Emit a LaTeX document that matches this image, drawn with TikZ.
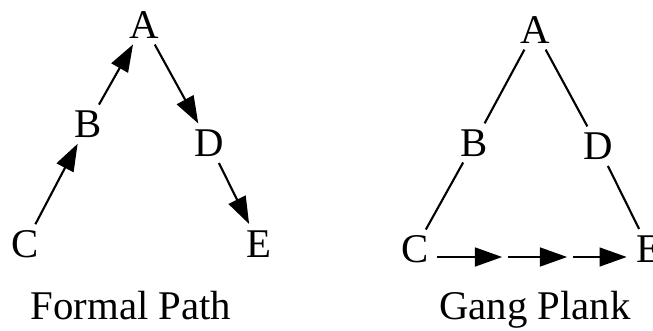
\documentclass[tikz,border=0pt]{standalone}
\usepackage{fontspec}
\setmainfont{Liberation Serif}
\usetikzlibrary{arrows.meta}
\tikzset{
  vtx/.style     = {circle, inner sep=0pt, minimum size=1.1cm,
                    font=\fontsize{29}{34}\selectfont},
  caption/.style = {anchor=base, inner sep=0pt,
                    font=\fontsize{29}{34}\selectfont},
  link/.style    = {line width=1.5pt},
  >={Triangle[length=0.68cm, width=0.47cm]}
}

\begin{document}
\begin{tikzpicture}[x=0.025cm, y=-0.025cm]
  \useasboundingbox (0,0) rectangle (653,330);

  %%--------------------------------------------------------------------
  %%  FORMAL PATH  (left)
  %%--------------------------------------------------------------------
  \node[vtx] (fA) at (144,25)  {A};
  \node[vtx] (fB) at (88,124)  {B};
  \node[vtx] (fC) at (25,244)  {C};
  \node[vtx] (fD) at (209,143) {D};
  \node[vtx] (fE) at (259,244) {E};
  \node[caption] (fcap) at (131,319) {Formal Path};

  \draw[link,->] (fC) -- (fB);
  \draw[link,->] (fB) -- (fA);
  \draw[link,->] (fA) -- (fD);
  \draw[link,->] (fD) -- (fE);

  %%--------------------------------------------------------------------
  %%  GANG PLANK  (right)
  %%--------------------------------------------------------------------
  \node[vtx] (gA) at (535,30)  {A};
  \node[vtx] (gB) at (474,143) {B};
  \node[vtx] (gC) at (415,249) {C};
  \node[vtx] (gD) at (598,146) {D};
  \node[vtx] (gE) at (649,249) {E};
  \node[caption] (gcap) at (535,319) {Gang Plank};

  \draw[link] (gA) -- (gB);
  \draw[link] (gB) -- (gC);
  \draw[link] (gA) -- (gD);
  \draw[link] (gD) -- (gE);

  %% plank C -> E in three hops
  \coordinate (g1) at (505,257);
  \coordinate (g2) at (570,257);
  \draw[link,->,shorten >=2pt]                (gC.east |- g1) -- (g1);
  \draw[link,->,shorten <=2pt, shorten >=2pt] (g1) -- (g2);
  \draw[link,->,shorten <=2pt]                (g2) -- (gE.west |- g1);

\end{tikzpicture}
\end{document}
